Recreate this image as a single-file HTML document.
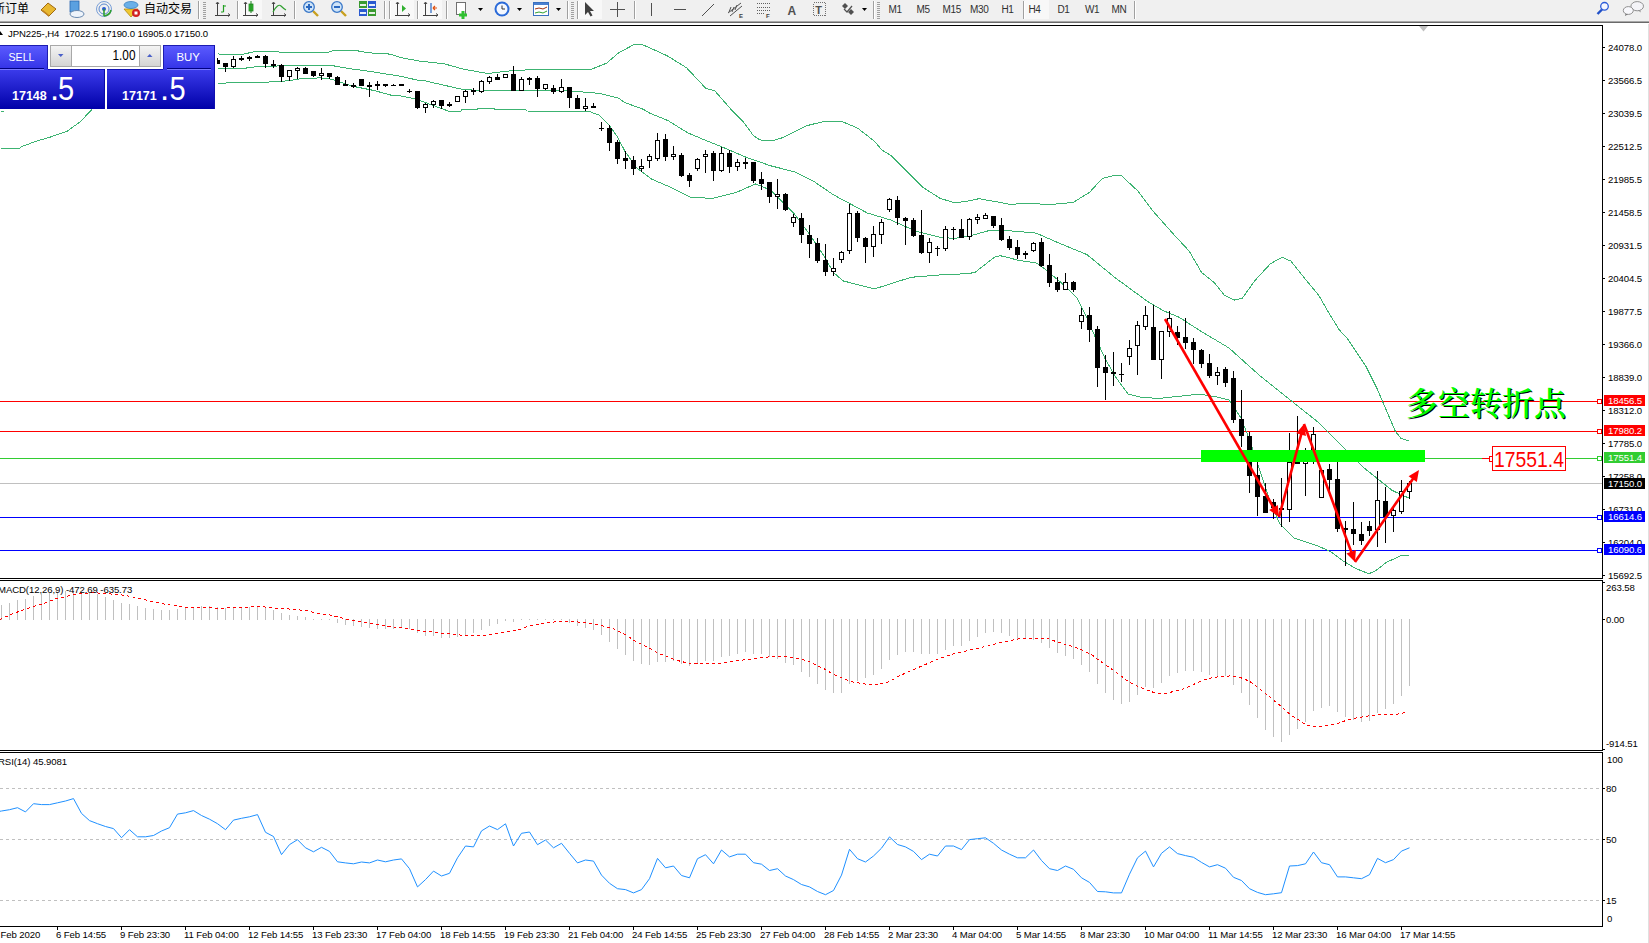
<!DOCTYPE html>
<html><head><meta charset="utf-8"><title>JPN225 H4</title><style>html,body{margin:0;padding:0;background:#fff;}body{width:1649px;height:943px;overflow:hidden;position:relative;}</style></head><body>
<svg width="1649" height="943" viewBox="0 0 1649 943" style="position:absolute;left:0;top:0">
<rect x="0" y="0" width="1649" height="943" fill="#ffffff"/>
<defs><clipPath id="cm"><rect x="0" y="26" width="1602" height="552"/></clipPath><clipPath id="cmacd"><rect x="0" y="581" width="1602" height="169"/></clipPath><clipPath id="crsi"><rect x="0" y="753" width="1602" height="173"/></clipPath><linearGradient id="gbtn" x1="0" y1="0" x2="0" y2="1"><stop offset="0" stop-color="#5c5cff"/><stop offset="1" stop-color="#3232e6"/></linearGradient><linearGradient id="gpx" x1="0" y1="0" x2="0" y2="1"><stop offset="0" stop-color="#3a3aea"/><stop offset="1" stop-color="#0000a8"/></linearGradient><linearGradient id="gspin" x1="0" y1="0" x2="0" y2="1"><stop offset="0" stop-color="#f4f4f4"/><stop offset="1" stop-color="#d4d4d4"/></linearGradient></defs>
<g clip-path="url(#cm)" shape-rendering="crispEdges">
<rect x="0" y="401" width="1597" height="1" fill="#ff0000"/>
<rect x="0" y="431" width="1597" height="1" fill="#ff0000"/>
<rect x="0" y="458" width="1482" height="1" fill="#32cd32"/>
<rect x="1482" y="458" width="10" height="1" fill="#ff0000"/>
<rect x="1566" y="458" width="31" height="1" fill="#32cd32"/>
<rect x="0" y="483" width="1602" height="1" fill="#c0c0c0"/>
<rect x="0" y="517" width="1597" height="1" fill="#0000ff"/>
<rect x="0" y="550" width="1597" height="1" fill="#0000ff"/>
<rect x="1597.5" y="399.5" width="4" height="4" fill="#ffffff" stroke="#ff0000" stroke-width="1"/>
<rect x="1597.5" y="429.5" width="4" height="4" fill="#ffffff" stroke="#ff0000" stroke-width="1"/>
<rect x="1597.5" y="456.5" width="4" height="4" fill="#ffffff" stroke="#32cd32" stroke-width="1"/>
<rect x="1597.5" y="515.5" width="4" height="4" fill="#ffffff" stroke="#0000ff" stroke-width="1"/>
<rect x="1597.5" y="548.5" width="4" height="4" fill="#ffffff" stroke="#0000ff" stroke-width="1"/>
</g>
<g clip-path="url(#cm)">
<polyline points="217.8,53.8 224.5,54.9 241.9,54.5 253.9,51.8 301.9,52.2 325.9,52.8 333.9,50.6 357.9,50.9 368.6,52.8 390.0,54.1 400.6,57.6 420.5,61.2 444.2,63.8 463.5,69.2 487.8,73.5 507.2,71.1 526.5,69.9 558.2,69.8 589.7,69.9 606.7,63.1 618.8,52.7 633.4,44.9 643.1,44.9 667.3,55.8 686.7,67.9 706.1,88.6 714.5,90.5 731.5,109.9 742.7,121.0 753.2,135.3 757.5,138.5 761.8,140.5 773.2,140.5 782.5,137.7 806.7,125.7 823.7,121.5 843.1,122.0 857.6,128.1 874.6,141.4 881.9,149.9 891.6,156.0 906.1,170.5 923.1,187.5 940.1,198.4 954.7,202.8 969.2,200.9 978.9,198.7 1000.5,202.5 1010.7,204.6 1026.0,203.0 1048.9,204.6 1073.1,202.5 1089.6,192.3 1102.4,178.3 1112.6,175.8 1121.5,175.8 1138.0,191.1 1153.3,211.4 1173.7,234.4 1189.0,250.9 1201.7,272.6 1214.5,282.8 1224.6,295.5 1234.8,300.1 1242.5,298.0 1255.2,280.2 1270.5,263.7 1282.0,257.3 1290.9,261.1 1306.2,280.2 1318.9,295.5 1329.1,313.3 1339.3,329.9 1347.8,339.1 1365.6,365.8 1377.5,389.6 1386.4,410.4 1395.3,431.2 1401.2,438.6 1408.6,440.7" fill="none" stroke="#3cb371" stroke-width="1" shape-rendering="crispEdges"/>
<polyline points="0.5,111.9 3.5,111.9" fill="none" stroke="#3cb371" stroke-width="1" shape-rendering="crispEdges"/>
<polyline points="217.8,68.1 240.5,68.8 256.5,66.7 280.5,65.9 333.9,65.9 347.3,68.3 374.0,72.0 400.5,76.3 420.5,80.8 424.8,80.8 461.1,89.1 483.0,91.0 521.8,90.5 570.3,91.0 599.5,93.4 618.8,98.3 624.8,102.6 643.1,109.2 649.0,112.8 668.4,120.8 687.8,132.9 702.4,139.0 721.8,146.8 746.0,157.2 770.3,165.7 794.5,171.8 814.0,181.5 833.4,194.8 847.9,202.6 867.3,213.0 891.6,220.3 915.8,231.2 940.1,237.3 954.7,238.5 974.1,234.8 988.6,230.7 1000.5,230.0 1036.2,233.1 1056.5,242.0 1087.1,254.7 1115.1,277.7 1148.2,301.9 1163.5,310.8 1178.8,317.1 1199.3,330.2 1229.0,348.0 1258.7,374.7 1288.4,398.5 1318.1,422.2 1341.8,446.0 1362.6,466.8 1377.5,478.7 1392.3,490.5 1408.6,498.0" fill="none" stroke="#3cb371" stroke-width="1" shape-rendering="crispEdges"/>
<polyline points="0.5,148.9 18.5,148.9 22.3,146.3 38.3,140.5 50.0,137.2 67.5,131.0 80.5,121.5 90.0,111.5 94.5,106.5" fill="none" stroke="#3cb371" stroke-width="1" shape-rendering="crispEdges"/>
<polyline points="217.8,83.2 267.2,82.1 288.5,80.8 301.9,78.5 320.5,77.9 331.3,79.2 353.9,86.5 374.0,90.5 391.3,95.2 400.5,95.8 408.6,97.6 416.5,99.2 448.1,111.0 460.8,111.0 461.5,109.9 477.1,109.9 477.8,108.7 494.2,108.7 494.9,109.9 526.1,109.9 526.8,111.0 589.7,111.6 599.4,115.3 609.1,125.0 617.6,137.1 624.8,151.1 636.9,168.1 651.4,179.0 668.4,186.3 690.3,197.2 712.1,198.4 736.3,192.4 755.7,183.9 770.3,190.0 784.9,204.5 794.5,214.2 809.1,233.6 823.7,255.4 833.4,272.4 843.1,280.9 874.6,288.9 911.0,277.3 940.1,274.9 969.2,273.6 975.5,272.0 995.1,256.7 1000.5,255.8 1006.5,257.1 1018.3,260.3 1036.2,262.9 1046.3,270.0 1064.2,285.3 1076.9,298.0 1087.1,318.4 1092.2,330.4 1105.7,359.9 1116.1,377.7 1128.0,394.0 1139.9,397.0 1157.7,398.5 1187.4,395.5 1199.3,394.0 1217.1,397.0 1229.0,400.0 1240.9,417.8 1249.8,440.1 1258.7,466.8 1270.5,502.4 1279.5,523.2 1294.3,538.1 1318.1,546.0 1330.5,551.5 1343.2,561.0 1355.9,568.6 1368.7,573.7 1375.0,571.2 1386.5,562.3 1400.5,555.9 1409.4,555.7" fill="none" stroke="#3cb371" stroke-width="1" shape-rendering="crispEdges"/>
</g>
<g clip-path="url(#cm)" shape-rendering="crispEdges">
<rect x="217" y="58" width="1" height="6" fill="#000"/>
<rect x="215" y="60" width="5" height="4" fill="#000"/>
<rect x="225" y="63" width="1" height="9" fill="#000"/>
<rect x="223" y="63" width="5" height="4" fill="#000"/>
<rect x="233" y="56" width="1" height="12" fill="#000"/>
<rect x="231.5" y="59.5" width="4" height="7" fill="#fff" stroke="#000" stroke-width="1"/>
<rect x="241" y="56" width="1" height="5" fill="#000"/>
<rect x="239" y="58" width="5" height="2" fill="#000"/>
<rect x="249" y="56" width="1" height="5" fill="#000"/>
<rect x="247" y="57" width="5" height="2" fill="#000"/>
<rect x="257" y="55" width="1" height="3" fill="#000"/>
<rect x="255" y="56" width="5" height="2" fill="#000"/>
<rect x="265" y="55" width="1" height="13" fill="#000"/>
<rect x="263" y="56" width="5" height="8" fill="#000"/>
<rect x="273" y="60" width="1" height="8" fill="#000"/>
<rect x="271" y="64" width="5" height="2" fill="#000"/>
<rect x="281" y="64" width="1" height="18" fill="#000"/>
<rect x="279" y="65" width="5" height="12" fill="#000"/>
<rect x="289" y="70" width="1" height="11" fill="#000"/>
<rect x="287.5" y="70.5" width="4" height="6" fill="#fff" stroke="#000" stroke-width="1"/>
<rect x="297" y="67" width="1" height="12" fill="#000"/>
<rect x="295.5" y="68.5" width="4" height="2" fill="#fff" stroke="#000" stroke-width="1"/>
<rect x="305" y="67" width="1" height="7" fill="#000"/>
<rect x="303" y="68" width="5" height="6" fill="#000"/>
<rect x="313" y="71" width="1" height="6" fill="#000"/>
<rect x="311" y="71" width="5" height="5" fill="#000"/>
<rect x="321" y="68" width="1" height="12" fill="#000"/>
<rect x="319.5" y="73.5" width="4" height="2" fill="#fff" stroke="#000" stroke-width="1"/>
<rect x="329" y="73" width="1" height="6" fill="#000"/>
<rect x="327" y="73" width="5" height="4" fill="#000"/>
<rect x="337" y="76" width="1" height="9" fill="#000"/>
<rect x="335" y="77" width="5" height="8" fill="#000"/>
<rect x="345" y="80" width="1" height="6" fill="#000"/>
<rect x="343" y="84" width="5" height="2" fill="#000"/>
<rect x="353" y="83" width="1" height="5" fill="#000"/>
<rect x="351" y="85" width="5" height="2" fill="#000"/>
<rect x="361" y="79" width="1" height="7" fill="#000"/>
<rect x="359" y="79" width="5" height="7" fill="#000"/>
<rect x="369" y="82" width="1" height="15" fill="#000"/>
<rect x="367" y="85" width="5" height="2" fill="#000"/>
<rect x="377" y="81" width="1" height="9" fill="#000"/>
<rect x="375" y="84" width="5" height="2" fill="#000"/>
<rect x="385" y="84" width="1" height="3" fill="#000"/>
<rect x="383" y="84" width="5" height="2" fill="#000"/>
<rect x="393" y="84" width="1" height="2" fill="#000"/>
<rect x="391" y="85" width="5" height="1" fill="#000"/>
<rect x="401" y="84" width="1" height="2" fill="#000"/>
<rect x="399" y="84" width="5" height="2" fill="#000"/>
<rect x="409" y="89" width="1" height="4" fill="#000"/>
<rect x="407" y="91" width="5" height="1" fill="#000"/>
<rect x="417" y="91" width="1" height="18" fill="#000"/>
<rect x="415" y="91" width="5" height="17" fill="#000"/>
<rect x="425" y="103" width="1" height="10" fill="#000"/>
<rect x="423.5" y="104.5" width="4" height="3" fill="#fff" stroke="#000" stroke-width="1"/>
<rect x="433" y="100" width="1" height="8" fill="#000"/>
<rect x="431.5" y="101.5" width="4" height="3" fill="#fff" stroke="#000" stroke-width="1"/>
<rect x="441" y="100" width="1" height="9" fill="#000"/>
<rect x="439" y="100" width="5" height="6" fill="#000"/>
<rect x="449" y="102" width="1" height="5" fill="#000"/>
<rect x="447" y="104" width="5" height="2" fill="#000"/>
<rect x="457" y="96" width="1" height="6" fill="#000"/>
<rect x="455.5" y="96.5" width="4" height="5" fill="#fff" stroke="#000" stroke-width="1"/>
<rect x="465" y="90" width="1" height="13" fill="#000"/>
<rect x="463.5" y="91.5" width="4" height="5" fill="#fff" stroke="#000" stroke-width="1"/>
<rect x="473" y="88" width="1" height="7" fill="#000"/>
<rect x="471" y="90" width="5" height="2" fill="#000"/>
<rect x="481" y="80" width="1" height="13" fill="#000"/>
<rect x="479.5" y="81.5" width="4" height="10" fill="#fff" stroke="#000" stroke-width="1"/>
<rect x="489" y="76" width="1" height="8" fill="#000"/>
<rect x="487.5" y="77.5" width="4" height="4" fill="#fff" stroke="#000" stroke-width="1"/>
<rect x="497" y="74" width="1" height="6" fill="#000"/>
<rect x="495" y="77" width="5" height="3" fill="#000"/>
<rect x="505" y="74" width="1" height="4" fill="#000"/>
<rect x="503.5" y="74.5" width="4" height="3" fill="#fff" stroke="#000" stroke-width="1"/>
<rect x="513" y="66" width="1" height="25" fill="#000"/>
<rect x="511" y="74" width="5" height="17" fill="#000"/>
<rect x="521" y="77" width="1" height="14" fill="#000"/>
<rect x="519.5" y="79.5" width="4" height="11" fill="#fff" stroke="#000" stroke-width="1"/>
<rect x="529" y="77" width="1" height="8" fill="#000"/>
<rect x="527" y="78" width="5" height="2" fill="#000"/>
<rect x="537" y="76" width="1" height="21" fill="#000"/>
<rect x="535" y="78" width="5" height="11" fill="#000"/>
<rect x="545" y="84" width="1" height="6" fill="#000"/>
<rect x="543.5" y="84.5" width="4" height="4" fill="#fff" stroke="#000" stroke-width="1"/>
<rect x="553" y="85" width="1" height="9" fill="#000"/>
<rect x="551" y="88" width="5" height="4" fill="#000"/>
<rect x="561" y="79" width="1" height="14" fill="#000"/>
<rect x="559.5" y="87.5" width="4" height="4" fill="#fff" stroke="#000" stroke-width="1"/>
<rect x="569" y="87" width="1" height="21" fill="#000"/>
<rect x="567" y="87" width="5" height="11" fill="#000"/>
<rect x="577" y="95" width="1" height="14" fill="#000"/>
<rect x="575" y="98" width="5" height="11" fill="#000"/>
<rect x="585" y="98" width="1" height="13" fill="#000"/>
<rect x="583.5" y="106.5" width="4" height="2" fill="#fff" stroke="#000" stroke-width="1"/>
<rect x="593" y="103" width="1" height="5" fill="#000"/>
<rect x="591" y="106" width="5" height="2" fill="#000"/>
<rect x="601" y="122" width="1" height="9" fill="#000"/>
<rect x="599" y="128" width="5" height="1" fill="#000"/>
<rect x="609" y="125" width="1" height="26" fill="#000"/>
<rect x="607" y="128" width="5" height="15" fill="#000"/>
<rect x="617" y="140" width="1" height="24" fill="#000"/>
<rect x="615" y="142" width="5" height="17" fill="#000"/>
<rect x="625" y="151" width="1" height="18" fill="#000"/>
<rect x="623" y="158" width="5" height="3" fill="#000"/>
<rect x="633" y="156" width="1" height="19" fill="#000"/>
<rect x="631" y="160" width="5" height="9" fill="#000"/>
<rect x="641" y="159" width="1" height="13" fill="#000"/>
<rect x="639.5" y="166.5" width="4" height="2" fill="#fff" stroke="#000" stroke-width="1"/>
<rect x="649" y="154" width="1" height="14" fill="#000"/>
<rect x="647.5" y="156.5" width="4" height="4" fill="#fff" stroke="#000" stroke-width="1"/>
<rect x="657" y="133" width="1" height="28" fill="#000"/>
<rect x="655.5" y="140.5" width="4" height="18" fill="#fff" stroke="#000" stroke-width="1"/>
<rect x="665" y="134" width="1" height="27" fill="#000"/>
<rect x="663" y="139" width="5" height="18" fill="#000"/>
<rect x="673" y="146" width="1" height="14" fill="#000"/>
<rect x="671.5" y="154.5" width="4" height="2" fill="#fff" stroke="#000" stroke-width="1"/>
<rect x="681" y="153" width="1" height="24" fill="#000"/>
<rect x="679" y="155" width="5" height="21" fill="#000"/>
<rect x="689" y="173" width="1" height="14" fill="#000"/>
<rect x="687" y="175" width="5" height="6" fill="#000"/>
<rect x="697" y="158" width="1" height="13" fill="#000"/>
<rect x="695.5" y="159.5" width="4" height="9" fill="#fff" stroke="#000" stroke-width="1"/>
<rect x="705" y="150" width="1" height="23" fill="#000"/>
<rect x="703.5" y="154.5" width="4" height="2" fill="#fff" stroke="#000" stroke-width="1"/>
<rect x="713" y="151" width="1" height="30" fill="#000"/>
<rect x="711" y="153" width="5" height="18" fill="#000"/>
<rect x="721" y="147" width="1" height="25" fill="#000"/>
<rect x="719.5" y="153.5" width="4" height="17" fill="#fff" stroke="#000" stroke-width="1"/>
<rect x="729" y="150" width="1" height="23" fill="#000"/>
<rect x="727" y="153" width="5" height="14" fill="#000"/>
<rect x="737" y="159" width="1" height="12" fill="#000"/>
<rect x="735.5" y="162.5" width="4" height="4" fill="#fff" stroke="#000" stroke-width="1"/>
<rect x="745" y="158" width="1" height="11" fill="#000"/>
<rect x="743" y="162" width="5" height="2" fill="#000"/>
<rect x="753" y="162" width="1" height="21" fill="#000"/>
<rect x="751" y="162" width="5" height="19" fill="#000"/>
<rect x="761" y="172" width="1" height="18" fill="#000"/>
<rect x="759" y="179" width="5" height="5" fill="#000"/>
<rect x="769" y="182" width="1" height="21" fill="#000"/>
<rect x="767" y="182" width="5" height="15" fill="#000"/>
<rect x="777" y="179" width="1" height="30" fill="#000"/>
<rect x="775.5" y="194.5" width="4" height="2" fill="#fff" stroke="#000" stroke-width="1"/>
<rect x="785" y="193" width="1" height="18" fill="#000"/>
<rect x="783" y="194" width="5" height="16" fill="#000"/>
<rect x="793" y="214" width="1" height="13" fill="#000"/>
<rect x="791.5" y="217.5" width="4" height="5" fill="#fff" stroke="#000" stroke-width="1"/>
<rect x="801" y="213" width="1" height="30" fill="#000"/>
<rect x="799" y="218" width="5" height="17" fill="#000"/>
<rect x="809" y="225" width="1" height="33" fill="#000"/>
<rect x="807" y="235" width="5" height="9" fill="#000"/>
<rect x="817" y="238" width="1" height="25" fill="#000"/>
<rect x="815" y="243" width="5" height="18" fill="#000"/>
<rect x="825" y="244" width="1" height="32" fill="#000"/>
<rect x="823" y="260" width="5" height="12" fill="#000"/>
<rect x="833" y="258" width="1" height="18" fill="#000"/>
<rect x="831.5" y="268.5" width="4" height="3" fill="#fff" stroke="#000" stroke-width="1"/>
<rect x="841" y="251" width="1" height="12" fill="#000"/>
<rect x="839.5" y="252.5" width="4" height="7" fill="#fff" stroke="#000" stroke-width="1"/>
<rect x="849" y="204" width="1" height="50" fill="#000"/>
<rect x="847.5" y="213.5" width="4" height="37" fill="#fff" stroke="#000" stroke-width="1"/>
<rect x="857" y="211" width="1" height="31" fill="#000"/>
<rect x="855" y="213" width="5" height="25" fill="#000"/>
<rect x="865" y="237" width="1" height="26" fill="#000"/>
<rect x="863" y="238" width="5" height="9" fill="#000"/>
<rect x="873" y="226" width="1" height="31" fill="#000"/>
<rect x="871.5" y="234.5" width="4" height="12" fill="#fff" stroke="#000" stroke-width="1"/>
<rect x="881" y="219" width="1" height="25" fill="#000"/>
<rect x="879.5" y="222.5" width="4" height="12" fill="#fff" stroke="#000" stroke-width="1"/>
<rect x="889" y="198" width="1" height="14" fill="#000"/>
<rect x="887.5" y="199.5" width="4" height="10" fill="#fff" stroke="#000" stroke-width="1"/>
<rect x="897" y="196" width="1" height="29" fill="#000"/>
<rect x="895" y="200" width="5" height="18" fill="#000"/>
<rect x="905" y="217" width="1" height="28" fill="#000"/>
<rect x="903" y="218" width="5" height="3" fill="#000"/>
<rect x="913" y="218" width="1" height="19" fill="#000"/>
<rect x="911" y="220" width="5" height="16" fill="#000"/>
<rect x="921" y="210" width="1" height="44" fill="#000"/>
<rect x="919" y="235" width="5" height="18" fill="#000"/>
<rect x="929" y="238" width="1" height="25" fill="#000"/>
<rect x="927.5" y="242.5" width="4" height="10" fill="#fff" stroke="#000" stroke-width="1"/>
<rect x="937" y="246" width="1" height="10" fill="#000"/>
<rect x="935" y="248" width="5" height="1" fill="#000"/>
<rect x="945" y="226" width="1" height="25" fill="#000"/>
<rect x="943.5" y="229.5" width="4" height="19" fill="#fff" stroke="#000" stroke-width="1"/>
<rect x="953" y="227" width="1" height="13" fill="#000"/>
<rect x="951" y="229" width="5" height="1" fill="#000"/>
<rect x="961" y="219" width="1" height="19" fill="#000"/>
<rect x="959" y="229" width="5" height="9" fill="#000"/>
<rect x="969" y="218" width="1" height="22" fill="#000"/>
<rect x="967.5" y="219.5" width="4" height="17" fill="#fff" stroke="#000" stroke-width="1"/>
<rect x="977" y="214" width="1" height="10" fill="#000"/>
<rect x="975.5" y="217.5" width="4" height="2" fill="#fff" stroke="#000" stroke-width="1"/>
<rect x="985" y="213" width="1" height="6" fill="#000"/>
<rect x="983.5" y="215.5" width="4" height="3" fill="#fff" stroke="#000" stroke-width="1"/>
<rect x="993" y="216" width="1" height="12" fill="#000"/>
<rect x="991" y="216" width="5" height="10" fill="#000"/>
<rect x="1001" y="218" width="1" height="23" fill="#000"/>
<rect x="999" y="225" width="5" height="15" fill="#000"/>
<rect x="1009" y="236" width="1" height="14" fill="#000"/>
<rect x="1007" y="239" width="5" height="9" fill="#000"/>
<rect x="1017" y="240" width="1" height="19" fill="#000"/>
<rect x="1015" y="247" width="5" height="8" fill="#000"/>
<rect x="1025" y="251" width="1" height="8" fill="#000"/>
<rect x="1023" y="253" width="5" height="2" fill="#000"/>
<rect x="1033" y="242" width="1" height="10" fill="#000"/>
<rect x="1031.5" y="243.5" width="4" height="7" fill="#fff" stroke="#000" stroke-width="1"/>
<rect x="1041" y="238" width="1" height="29" fill="#000"/>
<rect x="1039" y="242" width="5" height="24" fill="#000"/>
<rect x="1049" y="254" width="1" height="33" fill="#000"/>
<rect x="1047" y="265" width="5" height="18" fill="#000"/>
<rect x="1057" y="277" width="1" height="15" fill="#000"/>
<rect x="1055" y="282" width="5" height="8" fill="#000"/>
<rect x="1065" y="273" width="1" height="17" fill="#000"/>
<rect x="1063.5" y="282.5" width="4" height="7" fill="#fff" stroke="#000" stroke-width="1"/>
<rect x="1073" y="281" width="1" height="11" fill="#000"/>
<rect x="1071" y="282" width="5" height="8" fill="#000"/>
<rect x="1081" y="308" width="1" height="21" fill="#000"/>
<rect x="1079.5" y="315.5" width="4" height="6" fill="#fff" stroke="#000" stroke-width="1"/>
<rect x="1089" y="307" width="1" height="35" fill="#000"/>
<rect x="1087" y="315" width="5" height="15" fill="#000"/>
<rect x="1097" y="326" width="1" height="61" fill="#000"/>
<rect x="1095" y="329" width="5" height="39" fill="#000"/>
<rect x="1105" y="355" width="1" height="45" fill="#000"/>
<rect x="1103" y="367" width="5" height="6" fill="#000"/>
<rect x="1113" y="352" width="1" height="34" fill="#000"/>
<rect x="1111" y="372" width="5" height="2" fill="#000"/>
<rect x="1121" y="363" width="1" height="19" fill="#000"/>
<rect x="1119" y="374" width="5" height="1" fill="#000"/>
<rect x="1129" y="340" width="1" height="25" fill="#000"/>
<rect x="1127.5" y="348.5" width="4" height="8" fill="#fff" stroke="#000" stroke-width="1"/>
<rect x="1137" y="321" width="1" height="54" fill="#000"/>
<rect x="1135.5" y="325.5" width="4" height="20" fill="#fff" stroke="#000" stroke-width="1"/>
<rect x="1145" y="306" width="1" height="24" fill="#000"/>
<rect x="1143.5" y="315.5" width="4" height="11" fill="#fff" stroke="#000" stroke-width="1"/>
<rect x="1153" y="305" width="1" height="55" fill="#000"/>
<rect x="1151" y="327" width="5" height="33" fill="#000"/>
<rect x="1161" y="331" width="1" height="48" fill="#000"/>
<rect x="1159.5" y="331.5" width="4" height="28" fill="#fff" stroke="#000" stroke-width="1"/>
<rect x="1169" y="311" width="1" height="26" fill="#000"/>
<rect x="1167.5" y="318.5" width="4" height="13" fill="#fff" stroke="#000" stroke-width="1"/>
<rect x="1177" y="326" width="1" height="19" fill="#000"/>
<rect x="1175" y="332" width="5" height="6" fill="#000"/>
<rect x="1185" y="318" width="1" height="31" fill="#000"/>
<rect x="1183" y="337" width="5" height="6" fill="#000"/>
<rect x="1193" y="338" width="1" height="26" fill="#000"/>
<rect x="1191" y="342" width="5" height="8" fill="#000"/>
<rect x="1201" y="349" width="1" height="19" fill="#000"/>
<rect x="1199" y="350" width="5" height="14" fill="#000"/>
<rect x="1209" y="354" width="1" height="24" fill="#000"/>
<rect x="1207" y="363" width="5" height="13" fill="#000"/>
<rect x="1217" y="367" width="1" height="18" fill="#000"/>
<rect x="1215.5" y="372.5" width="4" height="3" fill="#fff" stroke="#000" stroke-width="1"/>
<rect x="1225" y="367" width="1" height="20" fill="#000"/>
<rect x="1223" y="369" width="5" height="14" fill="#000"/>
<rect x="1233" y="371" width="1" height="52" fill="#000"/>
<rect x="1231" y="378" width="5" height="42" fill="#000"/>
<rect x="1241" y="390" width="1" height="57" fill="#000"/>
<rect x="1239" y="419" width="5" height="17" fill="#000"/>
<rect x="1249" y="432" width="1" height="61" fill="#000"/>
<rect x="1247" y="436" width="5" height="40" fill="#000"/>
<rect x="1257" y="462" width="1" height="54" fill="#000"/>
<rect x="1255" y="475" width="5" height="22" fill="#000"/>
<rect x="1265" y="483" width="1" height="30" fill="#000"/>
<rect x="1263" y="496" width="5" height="17" fill="#000"/>
<rect x="1273" y="499" width="1" height="20" fill="#000"/>
<rect x="1271" y="502" width="5" height="6" fill="#000"/>
<rect x="1281" y="478" width="1" height="49" fill="#000"/>
<rect x="1279" y="508" width="5" height="2" fill="#000"/>
<rect x="1289" y="433" width="1" height="89" fill="#000"/>
<rect x="1287.5" y="462.5" width="4" height="47" fill="#fff" stroke="#000" stroke-width="1"/>
<rect x="1297" y="416" width="1" height="48" fill="#000"/>
<rect x="1295" y="457" width="5" height="7" fill="#000"/>
<rect x="1305" y="448" width="1" height="48" fill="#000"/>
<rect x="1303.5" y="458.5" width="4" height="5" fill="#fff" stroke="#000" stroke-width="1"/>
<rect x="1313" y="427" width="1" height="37" fill="#000"/>
<rect x="1311.5" y="434.5" width="4" height="18" fill="#fff" stroke="#000" stroke-width="1"/>
<rect x="1321" y="470" width="1" height="28" fill="#000"/>
<rect x="1319.5" y="470.5" width="4" height="27" fill="#fff" stroke="#000" stroke-width="1"/>
<rect x="1329" y="464" width="1" height="32" fill="#000"/>
<rect x="1327" y="469" width="5" height="11" fill="#000"/>
<rect x="1337" y="462" width="1" height="70" fill="#000"/>
<rect x="1335" y="479" width="5" height="50" fill="#000"/>
<rect x="1345" y="521" width="1" height="45" fill="#000"/>
<rect x="1343" y="528" width="5" height="2" fill="#000"/>
<rect x="1353" y="502" width="1" height="43" fill="#000"/>
<rect x="1351" y="529" width="5" height="5" fill="#000"/>
<rect x="1361" y="522" width="1" height="23" fill="#000"/>
<rect x="1359" y="534" width="5" height="7" fill="#000"/>
<rect x="1369" y="521" width="1" height="15" fill="#000"/>
<rect x="1367" y="526" width="5" height="5" fill="#000"/>
<rect x="1377" y="471" width="1" height="76" fill="#000"/>
<rect x="1375.5" y="500.5" width="4" height="29" fill="#fff" stroke="#000" stroke-width="1"/>
<rect x="1385" y="487" width="1" height="56" fill="#000"/>
<rect x="1383" y="501" width="5" height="16" fill="#000"/>
<rect x="1393" y="507" width="1" height="25" fill="#000"/>
<rect x="1391.5" y="510.5" width="4" height="5" fill="#fff" stroke="#000" stroke-width="1"/>
<rect x="1401" y="480" width="1" height="34" fill="#000"/>
<rect x="1399.5" y="491.5" width="4" height="20" fill="#fff" stroke="#000" stroke-width="1"/>
<rect x="1409" y="481" width="1" height="18" fill="#000"/>
<rect x="1407.5" y="483.5" width="4" height="8" fill="#fff" stroke="#000" stroke-width="1"/>
</g>
<rect x="1201" y="450" width="224" height="12" fill="#00ff00" shape-rendering="crispEdges"/>
<g clip-path="url(#cm)">
<line x1="1165.0" y1="319.0" x2="1274.5" y2="509.2" stroke="#ff0000" stroke-width="2.6"/><polygon points="1279.0,517.0 1269.2,510.0 1277.8,505.0" fill="#ff0000"/>
<line x1="1279.0" y1="517.0" x2="1301.7" y2="432.7" stroke="#ff0000" stroke-width="2.6"/><polygon points="1304.0,424.0 1306.0,435.9 1296.3,433.3" fill="#ff0000"/>
<line x1="1304.0" y1="424.0" x2="1351.9" y2="553.6" stroke="#ff0000" stroke-width="2.6"/><polygon points="1355.0,562.0 1346.5,553.4 1355.9,549.9" fill="#ff0000"/>
<line x1="1355.0" y1="562.0" x2="1413.9" y2="477.4" stroke="#ff0000" stroke-width="2.6"/><polygon points="1419.0,470.0 1416.8,481.9 1408.6,476.2" fill="#ff0000"/>
</g>
<text x="1407" y="415.5" font-family='"Liberation Serif", "Noto Serif CJK SC", serif' font-size="32" font-weight="600" fill="#000000">多空转折点</text>
<text x="1406" y="414.5" font-family='"Liberation Serif", "Noto Serif CJK SC", serif' font-size="32" font-weight="600" fill="#00ff00">多空转折点</text>
<rect x="1492.5" y="446.5" width="73" height="24" fill="#ffffff" stroke="#ff0000" stroke-width="1" shape-rendering="crispEdges"/>
<rect x="1489" y="456" width="3" height="5" fill="#ffffff" stroke="#ff0000" stroke-width="1" shape-rendering="crispEdges"/>
<text x="1494" y="467" font-family='"Liberation Sans", "DejaVu Sans", sans-serif' font-size="21.5" fill="#ff0000" textLength="70" lengthAdjust="spacingAndGlyphs">17551.4</text>
<g clip-path="url(#cmacd)" shape-rendering="crispEdges">
<rect x="1" y="605" width="1" height="15" fill="#c0c0c0"/>
<rect x="9" y="603" width="1" height="17" fill="#c0c0c0"/>
<rect x="17" y="600" width="1" height="20" fill="#c0c0c0"/>
<rect x="25" y="599" width="1" height="21" fill="#c0c0c0"/>
<rect x="33" y="596" width="1" height="24" fill="#c0c0c0"/>
<rect x="41" y="594" width="1" height="26" fill="#c0c0c0"/>
<rect x="49" y="593" width="1" height="27" fill="#c0c0c0"/>
<rect x="57" y="592" width="1" height="28" fill="#c0c0c0"/>
<rect x="65" y="591" width="1" height="29" fill="#c0c0c0"/>
<rect x="73" y="591" width="1" height="29" fill="#c0c0c0"/>
<rect x="81" y="593" width="1" height="27" fill="#c0c0c0"/>
<rect x="89" y="593" width="1" height="27" fill="#c0c0c0"/>
<rect x="97" y="594" width="1" height="26" fill="#c0c0c0"/>
<rect x="105" y="597" width="1" height="23" fill="#c0c0c0"/>
<rect x="113" y="600" width="1" height="20" fill="#c0c0c0"/>
<rect x="121" y="603" width="1" height="17" fill="#c0c0c0"/>
<rect x="129" y="604" width="1" height="16" fill="#c0c0c0"/>
<rect x="137" y="606" width="1" height="14" fill="#c0c0c0"/>
<rect x="145" y="608" width="1" height="12" fill="#c0c0c0"/>
<rect x="153" y="609" width="1" height="11" fill="#c0c0c0"/>
<rect x="161" y="610" width="1" height="10" fill="#c0c0c0"/>
<rect x="169" y="610" width="1" height="10" fill="#c0c0c0"/>
<rect x="177" y="609" width="1" height="11" fill="#c0c0c0"/>
<rect x="185" y="608" width="1" height="12" fill="#c0c0c0"/>
<rect x="193" y="607" width="1" height="13" fill="#c0c0c0"/>
<rect x="201" y="606" width="1" height="14" fill="#c0c0c0"/>
<rect x="209" y="606" width="1" height="14" fill="#c0c0c0"/>
<rect x="217" y="607" width="1" height="13" fill="#c0c0c0"/>
<rect x="225" y="608" width="1" height="12" fill="#c0c0c0"/>
<rect x="233" y="607" width="1" height="13" fill="#c0c0c0"/>
<rect x="241" y="608" width="1" height="12" fill="#c0c0c0"/>
<rect x="249" y="607" width="1" height="13" fill="#c0c0c0"/>
<rect x="257" y="606" width="1" height="14" fill="#c0c0c0"/>
<rect x="265" y="608" width="1" height="12" fill="#c0c0c0"/>
<rect x="273" y="610" width="1" height="10" fill="#c0c0c0"/>
<rect x="281" y="613" width="1" height="7" fill="#c0c0c0"/>
<rect x="289" y="615" width="1" height="5" fill="#c0c0c0"/>
<rect x="297" y="616" width="1" height="4" fill="#c0c0c0"/>
<rect x="305" y="617" width="1" height="3" fill="#c0c0c0"/>
<rect x="313" y="619" width="1" height="1" fill="#c0c0c0"/>
<rect x="321" y="619" width="1" height="1" fill="#c0c0c0"/>
<rect x="329" y="619" width="1" height="1" fill="#c0c0c0"/>
<rect x="337" y="619" width="1" height="4" fill="#c0c0c0"/>
<rect x="345" y="619" width="1" height="6" fill="#c0c0c0"/>
<rect x="353" y="619" width="1" height="7" fill="#c0c0c0"/>
<rect x="361" y="619" width="1" height="8" fill="#c0c0c0"/>
<rect x="369" y="619" width="1" height="9" fill="#c0c0c0"/>
<rect x="377" y="619" width="1" height="10" fill="#c0c0c0"/>
<rect x="385" y="619" width="1" height="10" fill="#c0c0c0"/>
<rect x="393" y="619" width="1" height="10" fill="#c0c0c0"/>
<rect x="401" y="619" width="1" height="9" fill="#c0c0c0"/>
<rect x="409" y="619" width="1" height="10" fill="#c0c0c0"/>
<rect x="417" y="619" width="1" height="14" fill="#c0c0c0"/>
<rect x="425" y="619" width="1" height="17" fill="#c0c0c0"/>
<rect x="433" y="619" width="1" height="17" fill="#c0c0c0"/>
<rect x="441" y="619" width="1" height="19" fill="#c0c0c0"/>
<rect x="449" y="619" width="1" height="19" fill="#c0c0c0"/>
<rect x="457" y="619" width="1" height="18" fill="#c0c0c0"/>
<rect x="465" y="619" width="1" height="16" fill="#c0c0c0"/>
<rect x="473" y="619" width="1" height="14" fill="#c0c0c0"/>
<rect x="481" y="619" width="1" height="11" fill="#c0c0c0"/>
<rect x="489" y="619" width="1" height="7" fill="#c0c0c0"/>
<rect x="497" y="619" width="1" height="5" fill="#c0c0c0"/>
<rect x="505" y="619" width="1" height="2" fill="#c0c0c0"/>
<rect x="513" y="619" width="1" height="3" fill="#c0c0c0"/>
<rect x="521" y="619" width="1" height="1" fill="#c0c0c0"/>
<rect x="529" y="619" width="1" height="1" fill="#c0c0c0"/>
<rect x="537" y="619" width="1" height="1" fill="#c0c0c0"/>
<rect x="545" y="619" width="1" height="1" fill="#c0c0c0"/>
<rect x="553" y="619" width="1" height="1" fill="#c0c0c0"/>
<rect x="561" y="619" width="1" height="1" fill="#c0c0c0"/>
<rect x="569" y="619" width="1" height="4" fill="#c0c0c0"/>
<rect x="577" y="619" width="1" height="7" fill="#c0c0c0"/>
<rect x="585" y="619" width="1" height="9" fill="#c0c0c0"/>
<rect x="593" y="619" width="1" height="11" fill="#c0c0c0"/>
<rect x="601" y="619" width="1" height="16" fill="#c0c0c0"/>
<rect x="609" y="619" width="1" height="23" fill="#c0c0c0"/>
<rect x="617" y="619" width="1" height="30" fill="#c0c0c0"/>
<rect x="625" y="619" width="1" height="36" fill="#c0c0c0"/>
<rect x="633" y="619" width="1" height="42" fill="#c0c0c0"/>
<rect x="641" y="619" width="1" height="45" fill="#c0c0c0"/>
<rect x="649" y="619" width="1" height="46" fill="#c0c0c0"/>
<rect x="657" y="619" width="1" height="43" fill="#c0c0c0"/>
<rect x="665" y="619" width="1" height="43" fill="#c0c0c0"/>
<rect x="673" y="619" width="1" height="42" fill="#c0c0c0"/>
<rect x="681" y="619" width="1" height="45" fill="#c0c0c0"/>
<rect x="689" y="619" width="1" height="47" fill="#c0c0c0"/>
<rect x="697" y="619" width="1" height="44" fill="#c0c0c0"/>
<rect x="705" y="619" width="1" height="42" fill="#c0c0c0"/>
<rect x="713" y="619" width="1" height="42" fill="#c0c0c0"/>
<rect x="721" y="619" width="1" height="38" fill="#c0c0c0"/>
<rect x="729" y="619" width="1" height="37" fill="#c0c0c0"/>
<rect x="737" y="619" width="1" height="35" fill="#c0c0c0"/>
<rect x="745" y="619" width="1" height="33" fill="#c0c0c0"/>
<rect x="753" y="619" width="1" height="35" fill="#c0c0c0"/>
<rect x="761" y="619" width="1" height="35" fill="#c0c0c0"/>
<rect x="769" y="619" width="1" height="38" fill="#c0c0c0"/>
<rect x="777" y="619" width="1" height="40" fill="#c0c0c0"/>
<rect x="785" y="619" width="1" height="44" fill="#c0c0c0"/>
<rect x="793" y="619" width="1" height="46" fill="#c0c0c0"/>
<rect x="801" y="619" width="1" height="53" fill="#c0c0c0"/>
<rect x="809" y="619" width="1" height="58" fill="#c0c0c0"/>
<rect x="817" y="619" width="1" height="65" fill="#c0c0c0"/>
<rect x="825" y="619" width="1" height="71" fill="#c0c0c0"/>
<rect x="833" y="619" width="1" height="74" fill="#c0c0c0"/>
<rect x="841" y="619" width="1" height="74" fill="#c0c0c0"/>
<rect x="849" y="619" width="1" height="65" fill="#c0c0c0"/>
<rect x="857" y="619" width="1" height="62" fill="#c0c0c0"/>
<rect x="865" y="619" width="1" height="59" fill="#c0c0c0"/>
<rect x="873" y="619" width="1" height="56" fill="#c0c0c0"/>
<rect x="881" y="619" width="1" height="50" fill="#c0c0c0"/>
<rect x="889" y="619" width="1" height="41" fill="#c0c0c0"/>
<rect x="897" y="619" width="1" height="36" fill="#c0c0c0"/>
<rect x="905" y="619" width="1" height="33" fill="#c0c0c0"/>
<rect x="913" y="619" width="1" height="33" fill="#c0c0c0"/>
<rect x="921" y="619" width="1" height="35" fill="#c0c0c0"/>
<rect x="929" y="619" width="1" height="35" fill="#c0c0c0"/>
<rect x="937" y="619" width="1" height="35" fill="#c0c0c0"/>
<rect x="945" y="619" width="1" height="31" fill="#c0c0c0"/>
<rect x="953" y="619" width="1" height="27" fill="#c0c0c0"/>
<rect x="961" y="619" width="1" height="27" fill="#c0c0c0"/>
<rect x="969" y="619" width="1" height="22" fill="#c0c0c0"/>
<rect x="977" y="619" width="1" height="18" fill="#c0c0c0"/>
<rect x="985" y="619" width="1" height="14" fill="#c0c0c0"/>
<rect x="993" y="619" width="1" height="13" fill="#c0c0c0"/>
<rect x="1001" y="619" width="1" height="14" fill="#c0c0c0"/>
<rect x="1009" y="619" width="1" height="17" fill="#c0c0c0"/>
<rect x="1017" y="619" width="1" height="20" fill="#c0c0c0"/>
<rect x="1025" y="619" width="1" height="20" fill="#c0c0c0"/>
<rect x="1033" y="619" width="1" height="21" fill="#c0c0c0"/>
<rect x="1041" y="619" width="1" height="24" fill="#c0c0c0"/>
<rect x="1049" y="619" width="1" height="29" fill="#c0c0c0"/>
<rect x="1057" y="619" width="1" height="34" fill="#c0c0c0"/>
<rect x="1065" y="619" width="1" height="37" fill="#c0c0c0"/>
<rect x="1073" y="619" width="1" height="40" fill="#c0c0c0"/>
<rect x="1081" y="619" width="1" height="46" fill="#c0c0c0"/>
<rect x="1089" y="619" width="1" height="53" fill="#c0c0c0"/>
<rect x="1097" y="619" width="1" height="65" fill="#c0c0c0"/>
<rect x="1105" y="619" width="1" height="74" fill="#c0c0c0"/>
<rect x="1113" y="619" width="1" height="81" fill="#c0c0c0"/>
<rect x="1121" y="619" width="1" height="85" fill="#c0c0c0"/>
<rect x="1129" y="619" width="1" height="83" fill="#c0c0c0"/>
<rect x="1137" y="619" width="1" height="76" fill="#c0c0c0"/>
<rect x="1145" y="619" width="1" height="68" fill="#c0c0c0"/>
<rect x="1153" y="619" width="1" height="69" fill="#c0c0c0"/>
<rect x="1161" y="619" width="1" height="64" fill="#c0c0c0"/>
<rect x="1169" y="619" width="1" height="57" fill="#c0c0c0"/>
<rect x="1177" y="619" width="1" height="54" fill="#c0c0c0"/>
<rect x="1185" y="619" width="1" height="52" fill="#c0c0c0"/>
<rect x="1193" y="619" width="1" height="52" fill="#c0c0c0"/>
<rect x="1201" y="619" width="1" height="53" fill="#c0c0c0"/>
<rect x="1209" y="619" width="1" height="56" fill="#c0c0c0"/>
<rect x="1217" y="619" width="1" height="57" fill="#c0c0c0"/>
<rect x="1225" y="619" width="1" height="57" fill="#c0c0c0"/>
<rect x="1233" y="619" width="1" height="66" fill="#c0c0c0"/>
<rect x="1241" y="619" width="1" height="74" fill="#c0c0c0"/>
<rect x="1249" y="619" width="1" height="86" fill="#c0c0c0"/>
<rect x="1257" y="619" width="1" height="99" fill="#c0c0c0"/>
<rect x="1265" y="619" width="1" height="111" fill="#c0c0c0"/>
<rect x="1273" y="619" width="1" height="118" fill="#c0c0c0"/>
<rect x="1281" y="619" width="1" height="123" fill="#c0c0c0"/>
<rect x="1289" y="619" width="1" height="116" fill="#c0c0c0"/>
<rect x="1297" y="619" width="1" height="110" fill="#c0c0c0"/>
<rect x="1305" y="619" width="1" height="103" fill="#c0c0c0"/>
<rect x="1313" y="619" width="1" height="92" fill="#c0c0c0"/>
<rect x="1321" y="619" width="1" height="89" fill="#c0c0c0"/>
<rect x="1329" y="619" width="1" height="87" fill="#c0c0c0"/>
<rect x="1337" y="619" width="1" height="93" fill="#c0c0c0"/>
<rect x="1345" y="619" width="1" height="98" fill="#c0c0c0"/>
<rect x="1353" y="619" width="1" height="101" fill="#c0c0c0"/>
<rect x="1361" y="619" width="1" height="103" fill="#c0c0c0"/>
<rect x="1369" y="619" width="1" height="102" fill="#c0c0c0"/>
<rect x="1377" y="619" width="1" height="94" fill="#c0c0c0"/>
<rect x="1385" y="619" width="1" height="90" fill="#c0c0c0"/>
<rect x="1393" y="619" width="1" height="85" fill="#c0c0c0"/>
<rect x="1401" y="619" width="1" height="77" fill="#c0c0c0"/>
<rect x="1409" y="619" width="1" height="67" fill="#c0c0c0"/>
</g>
<g clip-path="url(#cmacd)">
<polyline points="-6.5,621.5 0.5,619.1 10.0,614.9 25.7,608.9 41.5,604.2 57.3,598.2 65.1,597.1 71.5,594.7 82.5,593.4 95.1,592.8 120.3,594.7 129.8,596.3 142.4,599.1 158.2,602.9 173.9,605.7 189.7,607.6 221.2,608.1 237.0,607.6 260.5,606.5 271.0,607.8 289.9,609.1 297.8,609.7 308.8,611.0 316.7,613.4 329.3,614.9 338.8,617.3 348.3,619.7 360.9,622.0 376.6,624.4 392.4,626.8 408.2,628.8 423.9,631.2 439.7,632.8 455.5,634.7 471.3,635.9 487.0,635.0 496.5,633.4 510.5,631.2 516.3,630.0 522.6,628.9 528.9,625.7 539.9,624.2 552.5,622.1 563.6,621.5 569.9,621.0 582.5,622.6 595.1,624.2 601.4,625.7 614.0,628.9 620.3,632.0 626.6,635.2 633.0,639.9 642.4,644.7 651.9,649.4 658.2,653.3 666.1,656.0 673.9,659.6 686.6,662.8 697.6,663.9 713.4,663.9 729.1,662.0 737.0,660.7 752.8,658.8 760.5,657.6 769.4,656.9 786.8,656.9 801.0,659.2 808.8,661.2 816.7,665.5 824.6,669.1 834.1,674.6 842.0,678.1 851.4,681.7 860.9,683.3 870.3,684.9 879.8,684.1 889.3,681.7 898.7,676.2 908.2,671.8 923.9,665.1 939.7,658.5 955.5,653.3 971.3,649.7 987.0,646.2 1002.8,641.8 1010.5,640.7 1016.3,639.1 1032.0,638.0 1047.8,638.0 1055.7,641.5 1066.7,644.7 1074.6,647.0 1082.5,650.2 1091.8,654.8 1098.1,659.6 1104.5,664.1 1110.9,668.5 1117.2,673.0 1123.0,677.4 1128.7,681.9 1135.1,685.1 1141.4,687.9 1147.8,690.2 1154.2,692.7 1160.5,693.7 1166.9,693.0 1177.1,690.8 1183.5,688.9 1189.8,686.3 1194.9,683.8 1201.3,681.0 1207.7,678.7 1217.9,676.8 1230.6,675.9 1237.0,676.8 1243.3,678.5 1249.7,681.5 1256.1,686.3 1266.3,694.0 1273.9,700.4 1280.3,705.5 1285.4,710.5 1291.7,715.6 1298.1,719.5 1302.5,722.8 1308.3,725.7 1314.2,726.8 1325.8,725.9 1337.5,723.6 1344.5,721.0 1353.8,718.5 1365.5,716.3 1377.2,714.9 1388.9,714.9 1400.5,713.8 1406.4,711.7" fill="none" stroke="#ff0000" stroke-width="1" stroke-dasharray="3,3" shape-rendering="crispEdges"/>
</g>
<g shape-rendering="crispEdges">
<line x1="0" y1="788.5" x2="1602" y2="788.5" stroke="#c0c0c0" stroke-width="1" stroke-dasharray="3,3"/>
<line x1="0" y1="839.5" x2="1602" y2="839.5" stroke="#c0c0c0" stroke-width="1" stroke-dasharray="3,3"/>
<line x1="0" y1="900.5" x2="1602" y2="900.5" stroke="#c0c0c0" stroke-width="1" stroke-dasharray="3,3"/>
</g>
<g clip-path="url(#crsi)">
<polyline points="-6.5,812.5 1.5,811.0 9.5,809.7 17.5,807.7 25.5,811.9 33.5,803.7 41.5,804.6 49.5,804.6 57.5,802.8 65.5,801.0 73.5,798.6 81.5,813.4 89.5,820.6 97.5,823.7 105.5,826.5 113.5,828.6 121.5,837.7 129.5,829.7 137.5,836.8 145.5,836.8 153.5,835.5 161.5,831.0 169.5,827.7 177.5,814.1 185.5,812.8 193.5,810.6 201.5,815.5 209.5,819.2 217.5,823.7 225.5,829.7 233.5,820.1 241.5,818.3 249.5,816.8 257.5,814.6 265.5,832.3 273.5,836.5 281.5,854.6 289.5,844.6 297.5,839.7 305.5,847.8 313.5,851.8 321.5,847.3 329.5,851.4 337.5,861.8 345.5,862.9 353.5,863.8 361.5,862.0 369.5,862.9 377.5,860.0 385.5,861.8 393.5,860.0 401.5,858.9 409.5,868.7 417.5,886.9 425.5,879.6 433.5,871.1 441.5,876.0 449.5,873.3 457.5,857.8 465.5,846.0 473.5,846.9 481.5,830.9 489.5,826.0 497.5,829.6 505.5,823.8 513.5,846.0 521.5,833.3 529.5,832.0 537.5,844.7 545.5,840.0 553.5,847.8 561.5,843.3 569.5,853.3 577.5,862.9 585.5,860.0 593.5,861.1 601.5,875.1 609.5,883.3 617.5,888.7 625.5,889.6 633.5,892.9 641.5,889.6 649.5,878.7 657.5,858.4 665.5,867.8 673.5,866.0 681.5,875.5 689.5,877.8 697.5,858.7 705.5,854.7 713.5,863.8 721.5,850.0 729.5,856.9 737.5,854.2 745.5,854.2 753.5,862.7 761.5,864.2 769.5,870.5 777.5,868.7 785.5,876.0 793.5,879.6 801.5,884.5 809.5,886.9 817.5,891.5 825.5,894.7 833.5,890.5 841.5,875.1 849.5,849.3 857.5,858.7 865.5,862.0 873.5,856.0 881.5,848.2 889.5,836.9 897.5,844.5 905.5,846.9 913.5,851.4 921.5,859.6 929.5,854.2 937.5,856.0 945.5,846.0 953.5,846.0 961.5,849.6 969.5,839.6 977.5,838.7 985.5,837.8 993.5,843.3 1001.5,850.0 1009.5,854.2 1017.5,857.8 1025.5,857.8 1033.5,850.0 1041.5,860.5 1049.5,868.7 1057.5,870.5 1065.5,866.0 1073.5,869.3 1081.5,877.8 1089.5,882.4 1097.5,891.5 1105.5,891.8 1113.5,892.9 1121.5,892.9 1129.5,874.2 1137.5,857.8 1145.5,851.1 1153.5,866.9 1161.5,853.3 1169.5,846.9 1177.5,853.6 1185.5,855.6 1193.5,857.3 1201.5,862.4 1209.5,866.9 1217.5,864.7 1225.5,868.2 1233.5,877.3 1241.5,880.5 1249.5,888.7 1257.5,892.4 1265.5,894.7 1273.5,893.8 1281.5,892.7 1289.5,866.0 1297.5,865.6 1305.5,863.8 1313.5,852.0 1321.5,862.7 1329.5,864.7 1337.5,876.9 1345.5,876.9 1353.5,877.8 1361.5,878.7 1369.5,874.7 1377.5,858.4 1385.5,862.7 1393.5,859.6 1401.5,851.1 1409.5,847.8" fill="none" stroke="#1e90ff" stroke-width="1" />
</g>
<g shape-rendering="crispEdges" fill="#000">
<rect x="0" y="25" width="1603" height="1"/>
<rect x="1602" y="25" width="1" height="554"/>
<rect x="0" y="578" width="1603" height="1"/>
<rect x="0" y="580" width="1603" height="1"/>
<rect x="1602" y="580" width="1" height="171"/>
<rect x="0" y="750" width="1603" height="1"/>
<rect x="0" y="752" width="1603" height="1"/>
<rect x="1602" y="752" width="1" height="175"/>
<rect x="0" y="926" width="1603" height="1"/>
</g>
<rect x="1648" y="23" width="1" height="920" fill="#e0e0e0" shape-rendering="crispEdges"/>
<polygon points="1419,26 1428,26 1423.5,31.5" fill="#c0c0c0"/>
<g shape-rendering="crispEdges">
<rect x="1603" y="47" width="2" height="1" fill="#000"/>
<rect x="1603" y="80" width="2" height="1" fill="#000"/>
<rect x="1603" y="113" width="2" height="1" fill="#000"/>
<rect x="1603" y="146" width="2" height="1" fill="#000"/>
<rect x="1603" y="179" width="2" height="1" fill="#000"/>
<rect x="1603" y="212" width="2" height="1" fill="#000"/>
<rect x="1603" y="245" width="2" height="1" fill="#000"/>
<rect x="1603" y="278" width="2" height="1" fill="#000"/>
<rect x="1603" y="311" width="2" height="1" fill="#000"/>
<rect x="1603" y="344" width="2" height="1" fill="#000"/>
<rect x="1603" y="377" width="2" height="1" fill="#000"/>
<rect x="1603" y="410" width="2" height="1" fill="#000"/>
<rect x="1603" y="443" width="2" height="1" fill="#000"/>
<rect x="1603" y="476" width="2" height="1" fill="#000"/>
<rect x="1603" y="509" width="2" height="1" fill="#000"/>
<rect x="1603" y="542" width="2" height="1" fill="#000"/>
<rect x="1603" y="575" width="2" height="1" fill="#000"/>
</g>
<text x="1608" y="51" font-family='"Liberation Sans", "DejaVu Sans", sans-serif' font-size="9.6" fill="#000" letter-spacing="-0.1" >24078.0</text>
<text x="1608" y="84" font-family='"Liberation Sans", "DejaVu Sans", sans-serif' font-size="9.6" fill="#000" letter-spacing="-0.1" >23566.5</text>
<text x="1608" y="117" font-family='"Liberation Sans", "DejaVu Sans", sans-serif' font-size="9.6" fill="#000" letter-spacing="-0.1" >23039.5</text>
<text x="1608" y="150" font-family='"Liberation Sans", "DejaVu Sans", sans-serif' font-size="9.6" fill="#000" letter-spacing="-0.1" >22512.5</text>
<text x="1608" y="183" font-family='"Liberation Sans", "DejaVu Sans", sans-serif' font-size="9.6" fill="#000" letter-spacing="-0.1" >21985.5</text>
<text x="1608" y="216" font-family='"Liberation Sans", "DejaVu Sans", sans-serif' font-size="9.6" fill="#000" letter-spacing="-0.1" >21458.5</text>
<text x="1608" y="249" font-family='"Liberation Sans", "DejaVu Sans", sans-serif' font-size="9.6" fill="#000" letter-spacing="-0.1" >20931.5</text>
<text x="1608" y="282" font-family='"Liberation Sans", "DejaVu Sans", sans-serif' font-size="9.6" fill="#000" letter-spacing="-0.1" >20404.5</text>
<text x="1608" y="315" font-family='"Liberation Sans", "DejaVu Sans", sans-serif' font-size="9.6" fill="#000" letter-spacing="-0.1" >19877.5</text>
<text x="1608" y="348" font-family='"Liberation Sans", "DejaVu Sans", sans-serif' font-size="9.6" fill="#000" letter-spacing="-0.1" >19366.0</text>
<text x="1608" y="381" font-family='"Liberation Sans", "DejaVu Sans", sans-serif' font-size="9.6" fill="#000" letter-spacing="-0.1" >18839.0</text>
<text x="1608" y="414" font-family='"Liberation Sans", "DejaVu Sans", sans-serif' font-size="9.6" fill="#000" letter-spacing="-0.1" >18312.0</text>
<text x="1608" y="447" font-family='"Liberation Sans", "DejaVu Sans", sans-serif' font-size="9.6" fill="#000" letter-spacing="-0.1" >17785.0</text>
<text x="1608" y="480" font-family='"Liberation Sans", "DejaVu Sans", sans-serif' font-size="9.6" fill="#000" letter-spacing="-0.1" >17258.0</text>
<text x="1608" y="513" font-family='"Liberation Sans", "DejaVu Sans", sans-serif' font-size="9.6" fill="#000" letter-spacing="-0.1" >16731.0</text>
<text x="1608" y="546" font-family='"Liberation Sans", "DejaVu Sans", sans-serif' font-size="9.6" fill="#000" letter-spacing="-0.1" >16204.0</text>
<text x="1608" y="579" font-family='"Liberation Sans", "DejaVu Sans", sans-serif' font-size="9.6" fill="#000" letter-spacing="-0.1" >15692.5</text>
<rect x="1604" y="395" width="41" height="11" fill="#ff0000" shape-rendering="crispEdges"/><text x="1608" y="404" font-family='"Liberation Sans", "DejaVu Sans", sans-serif' font-size="9.6" fill="#ffffff" letter-spacing="-0.1" >18456.5</text>
<rect x="1604" y="425" width="41" height="11" fill="#ff0000" shape-rendering="crispEdges"/><text x="1608" y="434" font-family='"Liberation Sans", "DejaVu Sans", sans-serif' font-size="9.6" fill="#ffffff" letter-spacing="-0.1" >17980.2</text>
<rect x="1604" y="452" width="41" height="11" fill="#32cd32" shape-rendering="crispEdges"/><text x="1608" y="461" font-family='"Liberation Sans", "DejaVu Sans", sans-serif' font-size="9.6" fill="#ffffff" letter-spacing="-0.1" >17551.4</text>
<rect x="1604" y="478" width="41" height="11" fill="#000000" shape-rendering="crispEdges"/><text x="1608" y="487" font-family='"Liberation Sans", "DejaVu Sans", sans-serif' font-size="9.6" fill="#ffffff" letter-spacing="-0.1" >17150.0</text>
<rect x="1604" y="511" width="41" height="11" fill="#0000ff" shape-rendering="crispEdges"/><text x="1608" y="520" font-family='"Liberation Sans", "DejaVu Sans", sans-serif' font-size="9.6" fill="#ffffff" letter-spacing="-0.1" >16614.6</text>
<rect x="1604" y="544" width="41" height="11" fill="#0000ff" shape-rendering="crispEdges"/><text x="1608" y="553" font-family='"Liberation Sans", "DejaVu Sans", sans-serif' font-size="9.6" fill="#ffffff" letter-spacing="-0.1" >16090.6</text>
<rect x="1603" y="582" width="2" height="1" fill="#000" shape-rendering="crispEdges"/>
<rect x="1603" y="619" width="2" height="1" fill="#000" shape-rendering="crispEdges"/>
<rect x="1603" y="749" width="2" height="1" fill="#000" shape-rendering="crispEdges"/>
<text x="1606" y="591" font-family='"Liberation Sans", "DejaVu Sans", sans-serif' font-size="9.6" fill="#000" letter-spacing="-0.1" >263.58</text>
<text x="1606" y="623" font-family='"Liberation Sans", "DejaVu Sans", sans-serif' font-size="9.6" fill="#000" letter-spacing="-0.1" >0.00</text>
<text x="1606" y="747" font-family='"Liberation Sans", "DejaVu Sans", sans-serif' font-size="9.6" fill="#000" letter-spacing="-0.1" >-914.51</text>
<rect x="1603" y="788" width="2" height="1" fill="#000" shape-rendering="crispEdges"/>
<rect x="1603" y="839" width="2" height="1" fill="#000" shape-rendering="crispEdges"/>
<rect x="1603" y="900" width="2" height="1" fill="#000" shape-rendering="crispEdges"/>
<text x="1607" y="763" font-family='"Liberation Sans", "DejaVu Sans", sans-serif' font-size="9.6" fill="#000" letter-spacing="-0.1" >100</text>
<text x="1606" y="792" font-family='"Liberation Sans", "DejaVu Sans", sans-serif' font-size="9.6" fill="#000" letter-spacing="-0.1" >80</text>
<text x="1606" y="843" font-family='"Liberation Sans", "DejaVu Sans", sans-serif' font-size="9.6" fill="#000" letter-spacing="-0.1" >50</text>
<text x="1606" y="904" font-family='"Liberation Sans", "DejaVu Sans", sans-serif' font-size="9.6" fill="#000" letter-spacing="-0.1" >15</text>
<text x="1607" y="922" font-family='"Liberation Sans", "DejaVu Sans", sans-serif' font-size="9.6" fill="#000" letter-spacing="-0.1" >0</text>
<g shape-rendering="crispEdges">
<rect x="57" y="927" width="1" height="3" fill="#000"/>
<rect x="121" y="927" width="1" height="3" fill="#000"/>
<rect x="185" y="927" width="1" height="3" fill="#000"/>
<rect x="249" y="927" width="1" height="3" fill="#000"/>
<rect x="313" y="927" width="1" height="3" fill="#000"/>
<rect x="377" y="927" width="1" height="3" fill="#000"/>
<rect x="441" y="927" width="1" height="3" fill="#000"/>
<rect x="505" y="927" width="1" height="3" fill="#000"/>
<rect x="569" y="927" width="1" height="3" fill="#000"/>
<rect x="633" y="927" width="1" height="3" fill="#000"/>
<rect x="697" y="927" width="1" height="3" fill="#000"/>
<rect x="761" y="927" width="1" height="3" fill="#000"/>
<rect x="825" y="927" width="1" height="3" fill="#000"/>
<rect x="889" y="927" width="1" height="3" fill="#000"/>
<rect x="953" y="927" width="1" height="3" fill="#000"/>
<rect x="1017" y="927" width="1" height="3" fill="#000"/>
<rect x="1081" y="927" width="1" height="3" fill="#000"/>
<rect x="1145" y="927" width="1" height="3" fill="#000"/>
<rect x="1209" y="927" width="1" height="3" fill="#000"/>
<rect x="1273" y="927" width="1" height="3" fill="#000"/>
<rect x="1337" y="927" width="1" height="3" fill="#000"/>
<rect x="1401" y="927" width="1" height="3" fill="#000"/>
</g>
<text x="0.5" y="938.4" font-family='"Liberation Sans", "DejaVu Sans", sans-serif' font-size="9.6" fill="#000" letter-spacing="-0.1" >Feb 2020</text>
<text x="56" y="938.4" font-family='"Liberation Sans", "DejaVu Sans", sans-serif' font-size="9.6" fill="#000" letter-spacing="-0.1" >6 Feb 14:55</text>
<text x="120" y="938.4" font-family='"Liberation Sans", "DejaVu Sans", sans-serif' font-size="9.6" fill="#000" letter-spacing="-0.1" >9 Feb 23:30</text>
<text x="184" y="938.4" font-family='"Liberation Sans", "DejaVu Sans", sans-serif' font-size="9.6" fill="#000" letter-spacing="-0.1" >11 Feb 04:00</text>
<text x="248" y="938.4" font-family='"Liberation Sans", "DejaVu Sans", sans-serif' font-size="9.6" fill="#000" letter-spacing="-0.1" >12 Feb 14:55</text>
<text x="312" y="938.4" font-family='"Liberation Sans", "DejaVu Sans", sans-serif' font-size="9.6" fill="#000" letter-spacing="-0.1" >13 Feb 23:30</text>
<text x="376" y="938.4" font-family='"Liberation Sans", "DejaVu Sans", sans-serif' font-size="9.6" fill="#000" letter-spacing="-0.1" >17 Feb 04:00</text>
<text x="440" y="938.4" font-family='"Liberation Sans", "DejaVu Sans", sans-serif' font-size="9.6" fill="#000" letter-spacing="-0.1" >18 Feb 14:55</text>
<text x="504" y="938.4" font-family='"Liberation Sans", "DejaVu Sans", sans-serif' font-size="9.6" fill="#000" letter-spacing="-0.1" >19 Feb 23:30</text>
<text x="568" y="938.4" font-family='"Liberation Sans", "DejaVu Sans", sans-serif' font-size="9.6" fill="#000" letter-spacing="-0.1" >21 Feb 04:00</text>
<text x="632" y="938.4" font-family='"Liberation Sans", "DejaVu Sans", sans-serif' font-size="9.6" fill="#000" letter-spacing="-0.1" >24 Feb 14:55</text>
<text x="696" y="938.4" font-family='"Liberation Sans", "DejaVu Sans", sans-serif' font-size="9.6" fill="#000" letter-spacing="-0.1" >25 Feb 23:30</text>
<text x="760" y="938.4" font-family='"Liberation Sans", "DejaVu Sans", sans-serif' font-size="9.6" fill="#000" letter-spacing="-0.1" >27 Feb 04:00</text>
<text x="824" y="938.4" font-family='"Liberation Sans", "DejaVu Sans", sans-serif' font-size="9.6" fill="#000" letter-spacing="-0.1" >28 Feb 14:55</text>
<text x="888" y="938.4" font-family='"Liberation Sans", "DejaVu Sans", sans-serif' font-size="9.6" fill="#000" letter-spacing="-0.1" >2 Mar 23:30</text>
<text x="952" y="938.4" font-family='"Liberation Sans", "DejaVu Sans", sans-serif' font-size="9.6" fill="#000" letter-spacing="-0.1" >4 Mar 04:00</text>
<text x="1016" y="938.4" font-family='"Liberation Sans", "DejaVu Sans", sans-serif' font-size="9.6" fill="#000" letter-spacing="-0.1" >5 Mar 14:55</text>
<text x="1080" y="938.4" font-family='"Liberation Sans", "DejaVu Sans", sans-serif' font-size="9.6" fill="#000" letter-spacing="-0.1" >8 Mar 23:30</text>
<text x="1144" y="938.4" font-family='"Liberation Sans", "DejaVu Sans", sans-serif' font-size="9.6" fill="#000" letter-spacing="-0.1" >10 Mar 04:00</text>
<text x="1208" y="938.4" font-family='"Liberation Sans", "DejaVu Sans", sans-serif' font-size="9.6" fill="#000" letter-spacing="-0.1" >11 Mar 14:55</text>
<text x="1272" y="938.4" font-family='"Liberation Sans", "DejaVu Sans", sans-serif' font-size="9.6" fill="#000" letter-spacing="-0.1" >12 Mar 23:30</text>
<text x="1336" y="938.4" font-family='"Liberation Sans", "DejaVu Sans", sans-serif' font-size="9.6" fill="#000" letter-spacing="-0.1" >16 Mar 04:00</text>
<text x="1400" y="938.4" font-family='"Liberation Sans", "DejaVu Sans", sans-serif' font-size="9.6" fill="#000" letter-spacing="-0.1" >17 Mar 14:55</text>
<text x="-2" y="593" font-family='"Liberation Sans", "DejaVu Sans", sans-serif' font-size="9.6" fill="#000" letter-spacing="-0.1" >MACD(12,26,9) -472.69 -635.73</text>
<text x="-2" y="765" font-family='"Liberation Sans", "DejaVu Sans", sans-serif' font-size="9.6" fill="#000" letter-spacing="-0.1" >RSI(14) 45.9081</text>
<polygon points="0,31 3,35 0,35" fill="#000"/>
<text x="8" y="37" font-family='"Liberation Sans", "DejaVu Sans", sans-serif' font-size="9.6" fill="#000" letter-spacing="-0.1" >JPN225-,H4&#160;&#160;17022.5 17190.0 16905.0 17150.0</text>
<g>
<rect x="48" y="45" width="115" height="25" fill="#ffffff" shape-rendering="crispEdges"/>
<rect x="215" y="45" width="2" height="64" fill="#ffffff" shape-rendering="crispEdges"/>
<rect x="0" y="45" width="48" height="25" fill="url(#gbtn)" shape-rendering="crispEdges"/>
<rect x="0" y="45" width="48" height="1" fill="#1c1cb0" shape-rendering="crispEdges"/>
<rect x="47" y="45" width="1" height="24" fill="#1c1cb0" shape-rendering="crispEdges"/>
<rect x="163" y="45" width="52" height="25" fill="url(#gbtn)" shape-rendering="crispEdges"/>
<rect x="163" y="45" width="52" height="1" fill="#1c1cb0" shape-rendering="crispEdges"/>
<rect x="163" y="45" width="1" height="24" fill="#1c1cb0" shape-rendering="crispEdges"/>
<rect x="0" y="68" width="44" height="1" fill="#000080" shape-rendering="crispEdges"/>
<rect x="0" y="69" width="44" height="1" fill="#7878ff" shape-rendering="crispEdges"/>
<rect x="167" y="68" width="44" height="1" fill="#000080" shape-rendering="crispEdges"/>
<rect x="167" y="69" width="44" height="1" fill="#7878ff" shape-rendering="crispEdges"/>
<rect x="0" y="70" width="105" height="39" fill="url(#gpx)" shape-rendering="crispEdges"/>
<rect x="107" y="70" width="108" height="39" fill="url(#gpx)" shape-rendering="crispEdges"/>
<rect x="105" y="69" width="2" height="40" fill="#ffffff" shape-rendering="crispEdges"/>
<rect x="48" y="69" width="57" height="1" fill="#1414b4" shape-rendering="crispEdges"/>
<rect x="107" y="69" width="56" height="1" fill="#1414b4" shape-rendering="crispEdges"/>
<rect x="104" y="69" width="1" height="40" fill="#0a0aa8" shape-rendering="crispEdges"/>
<rect x="214" y="45" width="1" height="64" fill="#1010b0" shape-rendering="crispEdges"/>
<rect x="50.5" y="45.5" width="110" height="21" fill="#ffffff" stroke="#a8a8a8" stroke-width="1" shape-rendering="crispEdges"/>
<rect x="51" y="46" width="20" height="20" fill="url(#gspin)" shape-rendering="crispEdges"/>
<rect x="71" y="46" width="1" height="20" fill="#a8a8a8" shape-rendering="crispEdges"/>
<rect x="140" y="46" width="20" height="20" fill="url(#gspin)" shape-rendering="crispEdges"/>
<rect x="139" y="46" width="1" height="20" fill="#a8a8a8" shape-rendering="crispEdges"/>
<polygon points="58,54 63.5,54 60.75,57" fill="#4a60c8"/>
<polygon points="147,57 152.5,57 149.75,54" fill="#4a60c8"/>
<text x="112.5" y="60.3" font-family='"Liberation Sans", "DejaVu Sans", sans-serif' font-size="13.8" fill="#000" textLength="23" lengthAdjust="spacingAndGlyphs">1.00</text>
<text x="8.5" y="61" font-family='"Liberation Sans", "DejaVu Sans", sans-serif' font-size="11.5" fill="#ffffff" textLength="26" lengthAdjust="spacingAndGlyphs">SELL</text>
<text x="176.5" y="61" font-family='"Liberation Sans", "DejaVu Sans", sans-serif' font-size="11.5" fill="#ffffff" textLength="23.5" lengthAdjust="spacingAndGlyphs">BUY</text>
<text x="12" y="100" font-family='"Liberation Sans", "DejaVu Sans", sans-serif' font-size="12.5" font-weight="bold" fill="#ffffff">17148</text>
<text x="50" y="100" font-family='"Liberation Sans", "DejaVu Sans", sans-serif' font-size="33" fill="#ffffff">.</text>
<text transform="translate(58,100) scale(0.88,1)" x="0" y="0" font-family='"Liberation Sans", "DejaVu Sans", sans-serif' font-size="33" fill="#ffffff">5</text>
<text x="122" y="100" font-family='"Liberation Sans", "DejaVu Sans", sans-serif' font-size="12.5" font-weight="bold" fill="#ffffff">17171</text>
<text x="160" y="100" font-family='"Liberation Sans", "DejaVu Sans", sans-serif' font-size="33" fill="#ffffff">.</text>
<text transform="translate(169.5,100) scale(0.88,1)" x="0" y="0" font-family='"Liberation Sans", "DejaVu Sans", sans-serif' font-size="33" fill="#ffffff">5</text>
</g>
<rect x="0" y="0" width="1649" height="21" fill="#f0f0f0" shape-rendering="crispEdges"/>
<rect x="0" y="21" width="1649" height="1" fill="#a8a8a8" shape-rendering="crispEdges"/>
<rect x="0" y="22" width="1649" height="1" fill="#6a6a6a" shape-rendering="crispEdges"/>
<rect x="0" y="23" width="1649" height="1" fill="#ffffff" shape-rendering="crispEdges"/>
<text x="-7" y="13" font-family='"Liberation Sans", "Noto Sans CJK SC", "WenQuanYi Zen Hei", sans-serif' font-size="12" fill="#000">新订单</text>
<polygon points="41,10 48,3 56,9 49,16" fill="#e8b830" stroke="#a06a10" stroke-width="1"/>
<polygon points="42,11 49,17 49,15 43,10" fill="#c08020"/>
<rect x="70" y="1" width="9" height="11" fill="#5aa0e0" stroke="#2a66b0" stroke-width="0.8"/>
<ellipse cx="77" cy="14" rx="7" ry="3.5" fill="#eef4fb" stroke="#6a8ab0" stroke-width="1"/>
<circle cx="104" cy="9" r="7.5" fill="none" stroke="#7aa0d8" stroke-width="1"/>
<circle cx="104" cy="9" r="5" fill="none" stroke="#5a88d0" stroke-width="1"/>
<circle cx="104" cy="9" r="2" fill="#2a5ad0"/>
<path d="M104 9 L104 16 M104 16 Q110 15 111 10" stroke="#30a030" stroke-width="1.6" fill="none"/>
<path d="M124 9 L138 9 L131 17 Z" fill="#f0c830" stroke="#b08a10" stroke-width="0.8"/>
<ellipse cx="131" cy="5" rx="7" ry="3.5" fill="#6ab0e8" stroke="#3a80c0" stroke-width="0.8"/>
<circle cx="136" cy="13" r="4" fill="#d02020"/>
<rect x="134.5" y="11.5" width="3" height="3" fill="#ffffff"/>
<text x="144" y="13" font-family='"Liberation Sans", "Noto Sans CJK SC", "WenQuanYi Zen Hei", sans-serif' font-size="12" fill="#000">自动交易</text>
<rect x="198" y="1" width="1" height="18" fill="#a0a0a0" shape-rendering="crispEdges"/><rect x="199" y="1" width="1" height="18" fill="#ffffff" shape-rendering="crispEdges"/>
<rect x="203" y="2" width="3" height="1" fill="#a0a0a0" shape-rendering="crispEdges"/><rect x="203" y="4" width="3" height="1" fill="#a0a0a0" shape-rendering="crispEdges"/><rect x="203" y="6" width="3" height="1" fill="#a0a0a0" shape-rendering="crispEdges"/><rect x="203" y="8" width="3" height="1" fill="#a0a0a0" shape-rendering="crispEdges"/><rect x="203" y="10" width="3" height="1" fill="#a0a0a0" shape-rendering="crispEdges"/><rect x="203" y="12" width="3" height="1" fill="#a0a0a0" shape-rendering="crispEdges"/><rect x="203" y="14" width="3" height="1" fill="#a0a0a0" shape-rendering="crispEdges"/><rect x="203" y="16" width="3" height="1" fill="#a0a0a0" shape-rendering="crispEdges"/><rect x="203" y="18" width="3" height="1" fill="#a0a0a0" shape-rendering="crispEdges"/>
<path d="M217 3 L217 15 M215 15 L229 15" stroke="#404040" stroke-width="1" fill="none" shape-rendering="crispEdges"/><path d="M216 4 l1.5 -2 l1.5 2 M228 13.5 l2 1.5 l-2 1.5" stroke="#404040" stroke-width="1" fill="none"/><path d="M223.5 5 L223.5 12 M221 12 L223.5 12 M223.5 6 L226 6" stroke="#20a020" stroke-width="1.2" fill="none"/>
<rect x="237" y="1" width="1" height="18" fill="#a0a0a0" shape-rendering="crispEdges"/><rect x="238" y="1" width="1" height="18" fill="#ffffff" shape-rendering="crispEdges"/>
<rect x="239" y="0" width="23" height="19" fill="#f8f8f8" shape-rendering="crispEdges"/>
<path d="M245 3 L245 15 M243 15 L257 15" stroke="#404040" stroke-width="1" fill="none" shape-rendering="crispEdges"/><path d="M244 4 l1.5 -2 l1.5 2 M256 13.5 l2 1.5 l-2 1.5" stroke="#404040" stroke-width="1" fill="none"/><rect x="249" y="4" width="4" height="7" fill="#30c030" stroke="#208020" stroke-width="0.8"/><path d="M251 1 L251 13" stroke="#208020" stroke-width="1"/>
<path d="M273 3 L273 15 M271 15 L285 15" stroke="#404040" stroke-width="1" fill="none" shape-rendering="crispEdges"/><path d="M272 4 l1.5 -2 l1.5 2 M284 13.5 l2 1.5 l-2 1.5" stroke="#404040" stroke-width="1" fill="none"/><path d="M273 12 Q278 3 281 6 T286 10" stroke="#30a030" stroke-width="1.2" fill="none"/>
<rect x="294" y="1" width="1" height="18" fill="#a0a0a0" shape-rendering="crispEdges"/><rect x="295" y="1" width="1" height="18" fill="#ffffff" shape-rendering="crispEdges"/>
<line x1="313" y1="11" x2="318" y2="16" stroke="#c8a020" stroke-width="2.4"/><circle cx="309" cy="7" r="5.3" fill="#cfe4f8" stroke="#3a78c8" stroke-width="1.3"/><rect x="306" y="6" width="6" height="2" fill="#2a68c0"/><rect x="308" y="4" width="2" height="6" fill="#2a68c0"/>
<line x1="341" y1="11" x2="346" y2="16" stroke="#c8a020" stroke-width="2.4"/><circle cx="337" cy="7" r="5.3" fill="#cfe4f8" stroke="#3a78c8" stroke-width="1.3"/><rect x="334" y="6" width="6" height="2" fill="#2a68c0"/>
<rect x="359" y="1" width="8" height="7" fill="#3a9a30"/><rect x="368" y="1" width="8" height="7" fill="#2a5ad0"/><rect x="359" y="9" width="8" height="7" fill="#2a5ad0"/><rect x="368" y="9" width="8" height="7" fill="#3a9a30"/><rect x="360" y="4" width="6" height="2" fill="#e8f0e8"/><rect x="369" y="4" width="6" height="2" fill="#e8f0f8"/><rect x="360" y="12" width="6" height="2" fill="#e8f0f8"/><rect x="369" y="12" width="6" height="2" fill="#e8f0e8"/>
<rect x="384" y="1" width="1" height="18" fill="#a0a0a0" shape-rendering="crispEdges"/><rect x="385" y="1" width="1" height="18" fill="#ffffff" shape-rendering="crispEdges"/>
<rect x="389" y="1" width="1" height="18" fill="#a0a0a0" shape-rendering="crispEdges"/><rect x="390" y="1" width="1" height="18" fill="#ffffff" shape-rendering="crispEdges"/>
<rect x="391" y="0" width="23" height="19" fill="#f8f8f8" shape-rendering="crispEdges"/>
<path d="M397 3 L397 15 M395 15 L409 15" stroke="#404040" stroke-width="1" fill="none" shape-rendering="crispEdges"/><path d="M396 4 l1.5 -2 l1.5 2 M408 13.5 l2 1.5 l-2 1.5" stroke="#404040" stroke-width="1" fill="none"/><polygon points="402,5 406,8.5 402,12" fill="#30b030"/>
<rect x="417" y="1" width="1" height="18" fill="#a0a0a0" shape-rendering="crispEdges"/><rect x="418" y="1" width="1" height="18" fill="#ffffff" shape-rendering="crispEdges"/>
<rect x="419" y="0" width="23" height="19" fill="#f8f8f8" shape-rendering="crispEdges"/>
<path d="M425 3 L425 15 M423 15 L437 15" stroke="#404040" stroke-width="1" fill="none" shape-rendering="crispEdges"/><path d="M424 4 l1.5 -2 l1.5 2 M436 13.5 l2 1.5 l-2 1.5" stroke="#404040" stroke-width="1" fill="none"/><path d="M431 3 L431 13" stroke="#2a68c0" stroke-width="1.2"/><path d="M437 8 L433 8 M433 8 l2 -2 M433 8 l2 2" stroke="#e05010" stroke-width="1.2" fill="none"/>
<rect x="446" y="1" width="1" height="18" fill="#a0a0a0" shape-rendering="crispEdges"/><rect x="447" y="1" width="1" height="18" fill="#ffffff" shape-rendering="crispEdges"/>
<rect x="456.5" y="2.5" width="9" height="12" fill="#ffffff" stroke="#707070" stroke-width="1"/><path d="M463 11 L463 19 M459 15 L467 15" stroke="#30c030" stroke-width="3"/>
<polygon points="478,8 483,8 480.5,11" fill="#000"/>
<circle cx="502" cy="9" r="7.5" fill="#2a6ad8"/><circle cx="502" cy="9" r="5.5" fill="#f4f8ff"/><path d="M502 5.5 L502 9 L505 9" stroke="#303030" stroke-width="1" fill="none"/>
<polygon points="517,8 522,8 519.5,11" fill="#000"/>
<rect x="533.5" y="2.5" width="15" height="13" fill="#ffffff" stroke="#3a70c0" stroke-width="1"/><rect x="534" y="3" width="14" height="2" fill="#4a80d0"/><path d="M535 9 L539 8 L543 9 L547 7" stroke="#a03010" stroke-width="1" fill="none"/><path d="M535 13 L539 12 L543 13 L547 11" stroke="#30a030" stroke-width="1" fill="none"/>
<polygon points="556,8 561,8 558.5,11" fill="#000"/>
<rect x="567" y="1" width="1" height="18" fill="#a0a0a0" shape-rendering="crispEdges"/><rect x="568" y="1" width="1" height="18" fill="#ffffff" shape-rendering="crispEdges"/>
<rect x="571" y="2" width="3" height="1" fill="#a0a0a0" shape-rendering="crispEdges"/><rect x="571" y="4" width="3" height="1" fill="#a0a0a0" shape-rendering="crispEdges"/><rect x="571" y="6" width="3" height="1" fill="#a0a0a0" shape-rendering="crispEdges"/><rect x="571" y="8" width="3" height="1" fill="#a0a0a0" shape-rendering="crispEdges"/><rect x="571" y="10" width="3" height="1" fill="#a0a0a0" shape-rendering="crispEdges"/><rect x="571" y="12" width="3" height="1" fill="#a0a0a0" shape-rendering="crispEdges"/><rect x="571" y="14" width="3" height="1" fill="#a0a0a0" shape-rendering="crispEdges"/><rect x="571" y="16" width="3" height="1" fill="#a0a0a0" shape-rendering="crispEdges"/><rect x="571" y="18" width="3" height="1" fill="#a0a0a0" shape-rendering="crispEdges"/>
<rect x="577" y="1" width="1" height="18" fill="#a0a0a0" shape-rendering="crispEdges"/><rect x="578" y="1" width="1" height="18" fill="#ffffff" shape-rendering="crispEdges"/>
<rect x="579" y="0" width="23" height="19" fill="#f8f8f8" shape-rendering="crispEdges"/>
<polygon points="585,2 585,15 588,12 590.5,16.5 592.5,15.5 590,11 594,11" fill="#404040"/>
<path d="M617.5 2 L617.5 17 M610 9.5 L625 9.5" stroke="#505050" stroke-width="1" fill="none" shape-rendering="crispEdges"/>
<rect x="634" y="1" width="1" height="18" fill="#a0a0a0" shape-rendering="crispEdges"/><rect x="635" y="1" width="1" height="18" fill="#ffffff" shape-rendering="crispEdges"/>
<rect x="651" y="3" width="1" height="13" fill="#505050" shape-rendering="crispEdges"/>
<rect x="674" y="9" width="12" height="1" fill="#505050" shape-rendering="crispEdges"/>
<line x1="702" y1="16" x2="714" y2="4" stroke="#505050" stroke-width="1"/>
<path d="M728 13 L741 3 M730 16 L742 6 M731 7 L729 12 M734 7 L732 12 M737 5 L735 10" stroke="#505050" stroke-width="1" fill="none"/><text x="739" y="18" font-family='"Liberation Sans", "DejaVu Sans", sans-serif' font-size="6" font-weight="bold" fill="#404040">E</text>
<path d="M757 3.5 L770 3.5 M757 7.5 L770 7.5 M757 10.5 L770 10.5 M757 13.5 L765 13.5" stroke="#606060" stroke-width="1" stroke-dasharray="1,1" fill="none" shape-rendering="crispEdges"/><text x="766" y="18" font-family='"Liberation Sans", "DejaVu Sans", sans-serif' font-size="6" font-weight="bold" fill="#404040">F</text>
<text x="787.5" y="14.5" font-family='"Liberation Sans", "DejaVu Sans", sans-serif' font-size="12" font-weight="bold" fill="#505050">A</text>
<rect x="813.5" y="2.5" width="12" height="13" fill="none" stroke="#707070" stroke-width="1" stroke-dasharray="1,1" shape-rendering="crispEdges"/><text x="815.3" y="13.5" font-family='"Liberation Sans", "DejaVu Sans", sans-serif' font-size="11" font-weight="bold" fill="#505050">T</text>
<polygon points="842,6 845,3 848,6 845,9" fill="#505050"/><polygon points="848,12 851,9 854,12 851,15" fill="#505050"/><path d="M844 9 L847 12 L852 6" stroke="#505050" stroke-width="1.2" fill="none"/>
<polygon points="862,8 867,8 864.5,11" fill="#000"/>
<rect x="873" y="1" width="1" height="18" fill="#a0a0a0" shape-rendering="crispEdges"/><rect x="874" y="1" width="1" height="18" fill="#ffffff" shape-rendering="crispEdges"/>
<rect x="877" y="2" width="3" height="1" fill="#a0a0a0" shape-rendering="crispEdges"/><rect x="877" y="4" width="3" height="1" fill="#a0a0a0" shape-rendering="crispEdges"/><rect x="877" y="6" width="3" height="1" fill="#a0a0a0" shape-rendering="crispEdges"/><rect x="877" y="8" width="3" height="1" fill="#a0a0a0" shape-rendering="crispEdges"/><rect x="877" y="10" width="3" height="1" fill="#a0a0a0" shape-rendering="crispEdges"/><rect x="877" y="12" width="3" height="1" fill="#a0a0a0" shape-rendering="crispEdges"/><rect x="877" y="14" width="3" height="1" fill="#a0a0a0" shape-rendering="crispEdges"/><rect x="877" y="16" width="3" height="1" fill="#a0a0a0" shape-rendering="crispEdges"/><rect x="877" y="18" width="3" height="1" fill="#a0a0a0" shape-rendering="crispEdges"/>
<rect x="1023" y="1" width="1" height="18" fill="#a0a0a0" shape-rendering="crispEdges"/><rect x="1024" y="1" width="1" height="18" fill="#ffffff" shape-rendering="crispEdges"/>
<rect x="1025" y="0" width="24" height="19" fill="#f8f8f8" shape-rendering="crispEdges"/>
<text x="888.5" y="13" font-family='"Liberation Sans", "DejaVu Sans", sans-serif' font-size="10" fill="#303030" letter-spacing="-0.35">M1</text>
<text x="916.5" y="13" font-family='"Liberation Sans", "DejaVu Sans", sans-serif' font-size="10" fill="#303030" letter-spacing="-0.35">M5</text>
<text x="942.5" y="13" font-family='"Liberation Sans", "DejaVu Sans", sans-serif' font-size="10" fill="#303030" letter-spacing="-0.35">M15</text>
<text x="970" y="13" font-family='"Liberation Sans", "DejaVu Sans", sans-serif' font-size="10" fill="#303030" letter-spacing="-0.35">M30</text>
<text x="1001.5" y="13" font-family='"Liberation Sans", "DejaVu Sans", sans-serif' font-size="10" fill="#303030" letter-spacing="-0.35">H1</text>
<text x="1028.5" y="13" font-family='"Liberation Sans", "DejaVu Sans", sans-serif' font-size="10" fill="#303030" letter-spacing="-0.35">H4</text>
<text x="1057.5" y="13" font-family='"Liberation Sans", "DejaVu Sans", sans-serif' font-size="10" fill="#303030" letter-spacing="-0.35">D1</text>
<text x="1085" y="13" font-family='"Liberation Sans", "DejaVu Sans", sans-serif' font-size="10" fill="#303030" letter-spacing="-0.35">W1</text>
<text x="1111.5" y="13" font-family='"Liberation Sans", "DejaVu Sans", sans-serif' font-size="10" fill="#303030" letter-spacing="-0.35">MN</text>
<rect x="1134" y="1" width="1" height="18" fill="#a0a0a0" shape-rendering="crispEdges"/><rect x="1135" y="1" width="1" height="18" fill="#ffffff" shape-rendering="crispEdges"/>
<line x1="1597.5" y1="14" x2="1602" y2="9.5" stroke="#2050c8" stroke-width="2.4"/><circle cx="1604.5" cy="6.3" r="3.8" fill="#f4f6ff" stroke="#2a5ad8" stroke-width="1.3"/>
<ellipse cx="1637.2" cy="6.2" rx="6.3" ry="4.6" fill="#f4f4f8" stroke="#909090" stroke-width="1"/><path d="M1640 10 L1641 12.5 L1638 10.5" fill="#909090"/><ellipse cx="1628.3" cy="10.5" rx="5" ry="3.9" fill="#f8f8fc" stroke="#909090" stroke-width="1"/><path d="M1625.5 14 L1625 16 L1628 14.3" fill="#707070"/>
</svg>
</body></html>
